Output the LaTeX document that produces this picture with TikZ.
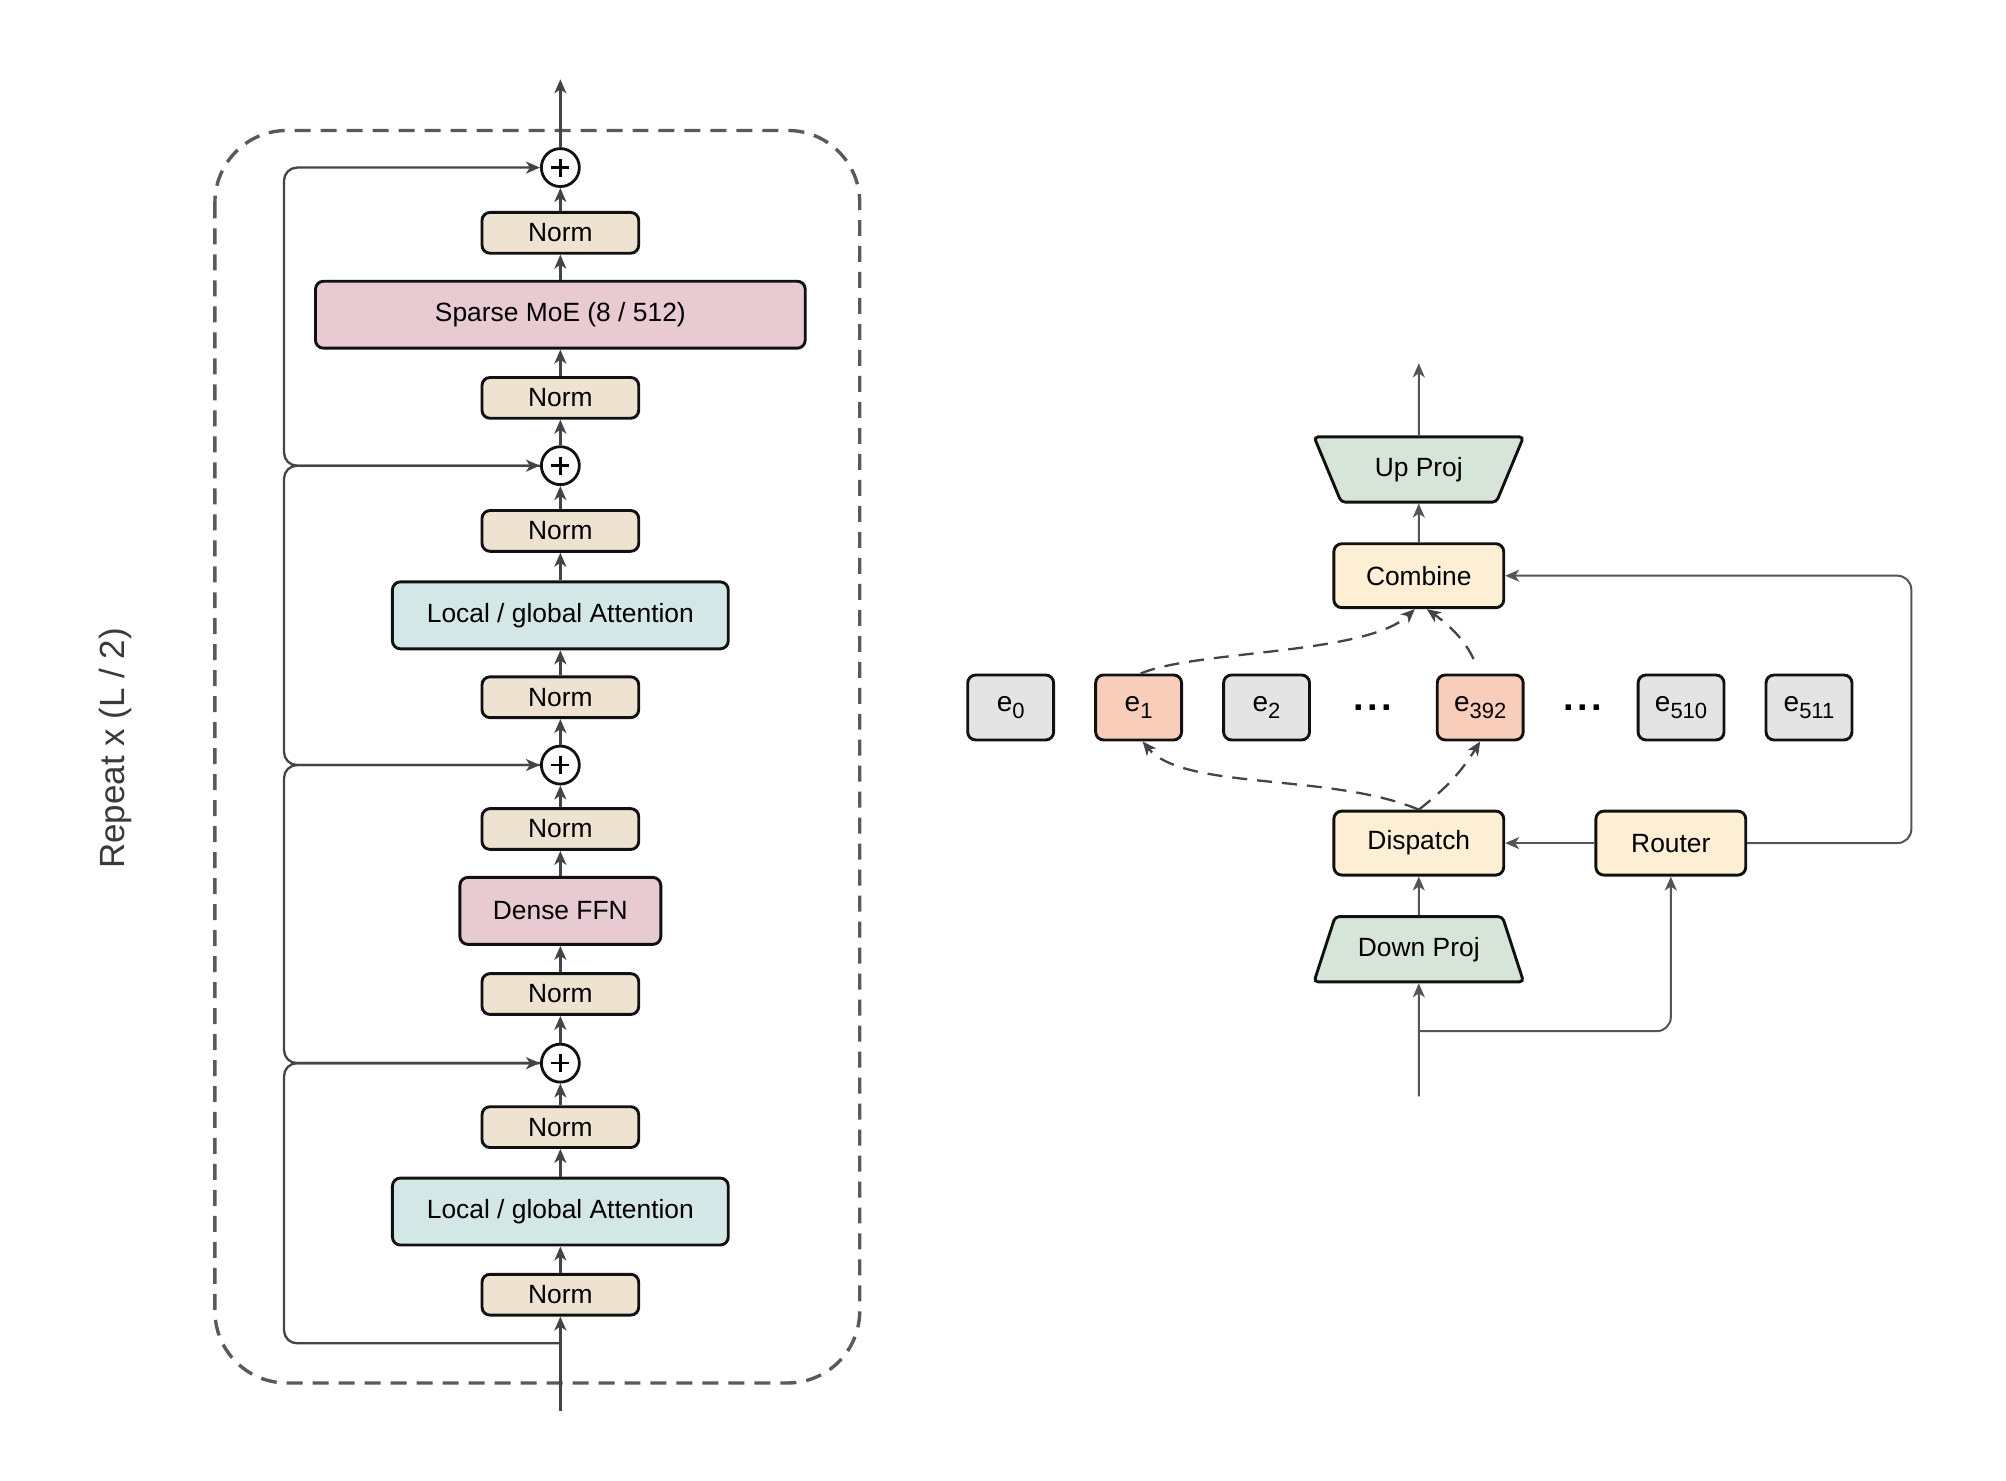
\documentclass[tikz,border=0pt]{standalone}
\usepackage{fontspec}
\setmainfont{Liberation Sans}
\usetikzlibrary{arrows.meta,shapes.geometric,calc}

\definecolor{normfill}{HTML}{EEE3D1}
\definecolor{moefill}{HTML}{E7CAD2}
\definecolor{attnfill}{HTML}{D3E7E6}
\definecolor{projfill}{HTML}{D6E5D8}
\definecolor{yelfill}{HTML}{FDEFD3}
\definecolor{grayfill}{HTML}{E4E4E4}
\definecolor{hotfill}{HTML}{F8CEBA}
\definecolor{linecol}{HTML}{444444}
\definecolor{rlinecol}{HTML}{555555}
\definecolor{boxline}{HTML}{111111}
\definecolor{dashcol}{HTML}{5A5A5A}
\definecolor{labgray}{HTML}{3A3A3A}

\newcommand{\esub}[1]{e\raisebox{-3.3pt}{\fontsize{11}{11}\selectfont #1}}

\begin{document}
\begin{tikzpicture}[x=0.64pt,y=-0.64pt,
  every node/.style={inner sep=0pt},
  box/.style={draw=boxline, line width=1.45pt, rounded corners=4pt, align=center,
    font=\fontsize{13.2}{15}\selectfont, text=black},
  normbox/.style={box, fill=normfill, minimum width=78.4pt, minimum height=20.4pt},
  moebox/.style={box, fill=moefill, minimum height=33.5pt},
  attnbox/.style={box, fill=attnfill, minimum width=168pt, minimum height=33.5pt},
  yelbox/.style={box, fill=yelfill, minimum height=32pt},
  expbox/.style={box, fill=grayfill, minimum width=43pt, minimum height=32.5pt,
    font=\fontsize{14}{16}\selectfont},
  hotbox/.style={expbox, fill=hotfill},
  projbox/.style={box, fill=projfill, trapezium, trapezium angle=58,
    trapezium stretches=true, minimum width=105pt, minimum height=32.6pt,
    rounded corners=2pt},
  plusnode/.style={circle, draw=boxline, fill=white, line width=1.4pt, minimum size=19pt,
    path picture={\draw[line width=1.3pt, black]
      ([xshift=-4.5pt]path picture bounding box.center) -- ([xshift=4.5pt]path picture bounding box.center)
      ([yshift=-4.5pt]path picture bounding box.center) -- ([yshift=4.5pt]path picture bounding box.center);}},
  tip/.style={-{Stealth[length=7pt,width=6pt,inset=2pt]}},
  conn/.style={draw=linecol, line width=1.15pt, tip},
  rconn/.style={draw=rlinecol, line width=1pt, tip},
  dconn/.style={draw=linecol, line width=1.15pt, dash pattern=on 7.5pt off 5pt, tip},
  dashbox/.style={draw=dashcol, line width=1.7pt, dash pattern=on 8pt off 5pt, rounded corners=36pt},
  dots/.style={font=\fontsize{19}{19}\selectfont\bfseries}
]
\useasboundingbox[fill=white] (0,0) rectangle (1568,1157);

% ---------------- left column ----------------
\draw[dashbox] (168,102) rectangle (672,1081);

\node[rotate=90, font=\fontsize{17.5}{20}\selectfont, text=labgray] (rep) at (90,585) {Repeat x (L / 2)};

\node[plusnode] (plus1) at (438,131) {};
\node[normbox]  (norm1) at (438,182) {Norm};
\node[moebox, minimum width=245pt] (moe) at (438,246) {Sparse MoE (8 / 512)};
\node[normbox]  (norm2) at (438,311) {Norm};
\node[plusnode] (plus2) at (438,364) {};
\node[normbox]  (norm3) at (438,415) {Norm};
\node[attnbox]  (attn1) at (438,481) {Local / global Attention};
\node[normbox]  (norm4) at (438,545) {Norm};
\node[plusnode] (plus3) at (438,598) {};
\node[normbox]  (norm5) at (438,648) {Norm};
\node[moebox, minimum width=100.5pt] (ffn) at (438,712) {Dense FFN};
\node[normbox]  (norm6) at (438,777) {Norm};
\node[plusnode] (plus4) at (438,831) {};
\node[normbox]  (norm7) at (438,881) {Norm};
\node[attnbox]  (attn2) at (438,947) {Local / global Attention};
\node[normbox]  (norm8) at (438,1012) {Norm};

\coordinate (lin) at (438,1103);
\coordinate (lbranch) at (438,1050);
\coordinate (ltop) at (438,62);
\coordinate (skx) at (222,0);

\foreach \a/\b in {lin/norm8, norm8/attn2, attn2/norm7, norm7/plus4, plus4/norm6,
  norm6/ffn, ffn/norm5, norm5/plus3, plus3/norm4, norm4/attn1, attn1/norm3,
  norm3/plus2, plus2/norm2, norm2/moe, moe/norm1, norm1/plus1, plus1/ltop}
  \draw[conn] (\a) -- (\b);

\draw[conn, rounded corners=6.5pt] (lbranch) -| (skx |- plus4) -- (plus4);
\draw[conn, rounded corners=6.5pt] (plus4) -| (skx |- plus3) -- (plus3);
\draw[conn, rounded corners=6.5pt] (plus3) -| (skx |- plus2) -- (plus2);
\draw[conn, rounded corners=6.5pt] (plus2) -| (skx |- plus1) -- (plus1);

% ---------------- right part ----------------
\node[projbox, shape border rotate=180] (upproj) at (1109,367) {Up Proj};
\node[yelbox, minimum width=85pt] (combine) at (1109,450) {Combine};

\node[expbox] (e0)   at (790,553)  {\esub{0}};
\node[hotbox] (e1)   at (890,553)  {\esub{1}};
\node[expbox] (e2)   at (990,553)  {\esub{2}};
\node[dots]   (dots1) at (1073,553) {.\hspace{1.6pt}.\hspace{1.6pt}.};
\node[hotbox] (e392) at (1157,553) {\esub{392}};
\node[dots]   (dots2) at (1237,553) {.\hspace{1.6pt}.\hspace{1.6pt}.};
\node[expbox] (e510) at (1314,553) {\esub{510}};
\node[expbox] (e511) at (1414,553) {\esub{511}};

\node[yelbox, minimum width=85pt] (dispatch) at (1109,659) {Dispatch};
\node[yelbox, minimum width=75pt] (router) at (1306,659) {Router};
\node[projbox] (downproj) at (1109,742) {Down Proj};

\coordinate (rtop) at (1109,284);
\coordinate (rin) at (1109,857);
\coordinate (rbranch) at (1109,806);
\coordinate (rx) at (1494,0);

\draw[rconn] (rin) -- (downproj);
\draw[rconn] (downproj) -- (dispatch);
\draw[rconn] (router) -- (dispatch);
\draw[rconn] (combine) -- (upproj);
\draw[rconn] (upproj) -- (rtop);
\draw[rconn, rounded corners=7pt] (rbranch) -| (router);
\draw[rconn, rounded corners=7pt] (router.east) -- (rx |- router) -- (rx |- combine) -- (combine.east);

\draw[dconn] (dispatch.north) .. controls (1040,604) and (925,618) .. ([xshift=2pt]e1.south);
\draw[dconn] (dispatch.north) to[bend right=10] (e392.south);
\draw[dconn] ([xshift=1pt]e1.north) .. controls (935,508) and (1068,512) .. ([xshift=-2pt]combine.south);
\draw[dconn, shorten <=8pt] (e392.north) to[bend right=15] ([xshift=4pt]combine.south);
\end{tikzpicture}
\end{document}
